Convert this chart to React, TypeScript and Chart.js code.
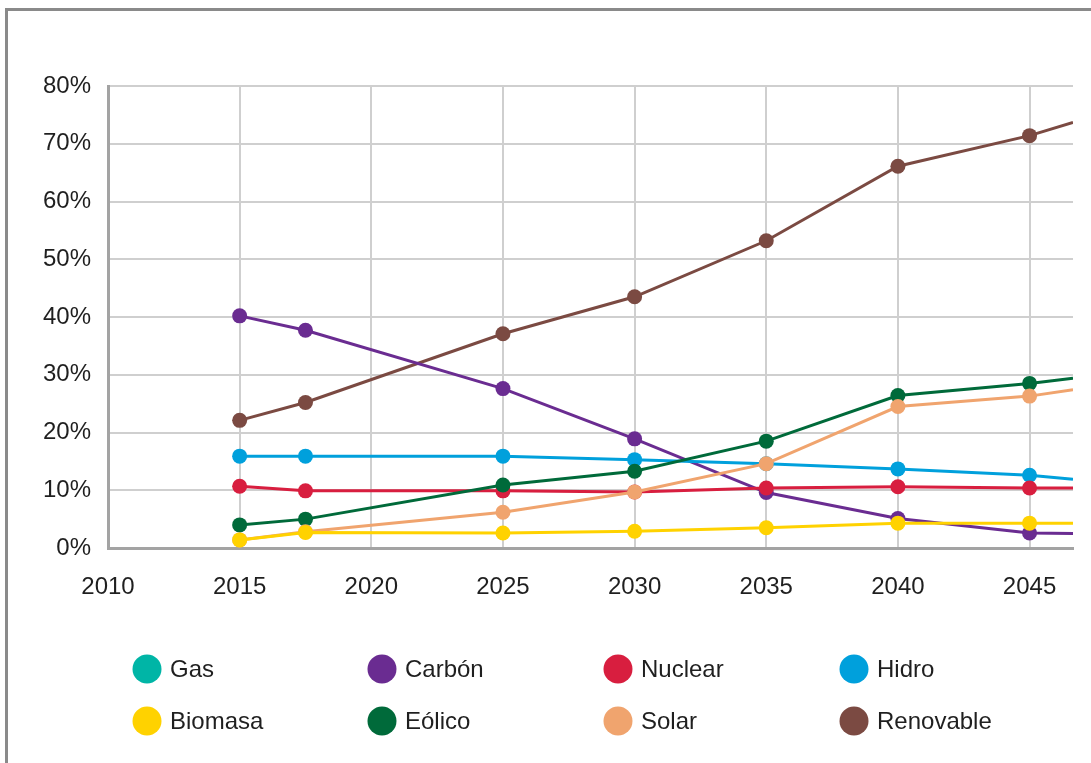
import React, { useEffect, useRef } from "react";
import { Chart, registerables } from "chart.js";

Chart.register(...registerables);

// ---- data ----
const years = [2015, 2017.5, 2025, 2030, 2035, 2040, 2045, 2046.65];
const xTicks = [2010, 2015, 2020, 2025, 2030, 2035, 2040, 2045];
const yTicks = [0, 10, 20, 30, 40, 50, 60, 70, 80];

const seriesLabels = ["Gas", "Carbón", "Nuclear", "Hidro", "Biomasa", "Eólico", "Solar", "Renovable"];
const seriesColors = ["#00b5a6", "#6a2c91", "#d81e3f", "#00a0dc", "#ffd200", "#006a3a", "#f0a46e", "#7b4a42"];
const seriesOrder = [0, 6, 4, 5, 1, 3, 2, 7];

const gasValues: number[] = [];
const carbonValues = [40.2, 37.7, 27.6, 18.9, 9.6, 5.1, 2.6, 2.5];
const nuclearValues = [10.7, 9.9, 9.9, 9.7, 10.4, 10.6, 10.4, 10.4];
const hidroValues = [15.9, 15.9, 15.9, 15.3, 14.6, 13.7, 12.6, 11.9];
const biomasaValues = [1.4, 2.7, 2.6, 2.9, 3.5, 4.3, 4.3, 4.3];
const eolicoValues = [4.0, 5.0, 10.9, 13.3, 18.5, 26.4, 28.5, 29.4];
const solarValues = [1.4, 2.8, 6.2, 9.7, 14.6, 24.5, 26.3, 27.4];
const renovableValues = [22.1, 25.2, 37.1, 43.5, 53.2, 66.1, 71.4, 73.7];

const seriesValues = [
  gasValues,
  carbonValues,
  nuclearValues,
  hidroValues,
  biomasaValues,
  eolicoValues,
  solarValues,
  renovableValues,
];

// ---- layout ----
const W = 1091;
const H = 763;
const FONT = '"Liberation Sans", Arial, sans-serif';
const TEXT = "#1f1f1f";
const legendColX = [147, 382, 618, 854];
const legendRowY = [669, 721];

const gridLegend = {
  id: "gridLegend",
  afterDraw(chart: any) {
    const ctx = chart.ctx;
    chart.data.datasets.forEach((ds: any, i: number) => {
      const cx = legendColX[i % 4];
      const cy = legendRowY[Math.floor(i / 4)];
      ctx.save();
      ctx.beginPath();
      ctx.arc(cx, cy, 14.5, 0, Math.PI * 2);
      ctx.fillStyle = ds.borderColor;
      ctx.fill();
      ctx.font = `24px ${FONT}`;
      ctx.fillStyle = TEXT;
      ctx.textBaseline = "middle";
      ctx.textAlign = "left";
      ctx.fillText(ds.label, cx + 23, cy + 1);
      ctx.restore();
    });
  },
};

export default function App() {
  const ref = useRef<HTMLCanvasElement | null>(null);

  useEffect(() => {
    if (!ref.current) return;
    const lastX = years[years.length - 1];
    const chart = new Chart(ref.current, {
      type: "line",
      data: {
        datasets: seriesLabels.map((label, i) => ({
          label,
          data: seriesValues[i].map((v, j) => ({ x: years[j], y: v })),
          borderColor: seriesColors[i],
          backgroundColor: seriesColors[i],
          borderWidth: 3,
          pointRadius: (c: any) => (c.raw && c.raw.x >= lastX ? 0 : 7.5),
          pointBorderWidth: 0,
          pointHoverRadius: 7.5,
          tension: 0,
          fill: false,
          order: seriesOrder[i],
        })),
      },
      options: {
        responsive: false,
        animation: false,
        layout: { padding: { top: 86, right: 18, bottom: 155, left: 0 } },
        plugins: { legend: { display: false }, tooltip: { enabled: false } },
        scales: {
          x: {
            type: "linear",
            min: 2010,
            max: lastX,
            afterBuildTicks: (s: any) => {
              s.ticks = xTicks.map((v) => ({ value: v }));
            },
            afterFit: (s: any) => {
              s.height = 60;
            },
            grid: { color: "#cfcfcf", lineWidth: 2, drawTicks: false },
            border: { color: "#a3a3a3", width: 3 },
            ticks: {
              font: { family: FONT, size: 24 },
              color: TEXT,
              padding: 25,
              maxRotation: 0,
              callback: (v: any) => String(v),
            },
          },
          y: {
            type: "linear",
            min: 0,
            max: 80,
            afterBuildTicks: (s: any) => {
              s.ticks = yTicks.map((v) => ({ value: v }));
            },
            afterFit: (s: any) => {
              s.width = 108;
            },
            grid: { color: "#cfcfcf", lineWidth: 2, drawTicks: false },
            border: { color: "#a3a3a3", width: 3 },
            ticks: {
              font: { family: FONT, size: 24 },
              color: TEXT,
              padding: 17,
              callback: (v: any) => v + "%",
            },
          },
        },
      },
      plugins: [gridLegend],
    });
    return () => chart.destroy();
  }, []);

  return (
    <div
      style={{
        position: "absolute",
        left: 0,
        top: 0,
        width: W,
        height: H,
        overflow: "hidden",
        background: "#fff",
      }}
    >
      <div
        style={{
          position: "absolute",
          left: 5,
          top: 8,
          width: W + 20,
          height: H + 20,
          borderTop: "3px solid #8a8a8a",
          borderLeft: "3px solid #8a8a8a",
        }}
      />
      <canvas
        ref={ref}
        width={W}
        height={H}
        style={{ position: "absolute", left: 0, top: 0, width: W, height: H }}
      />
    </div>
  );
}
